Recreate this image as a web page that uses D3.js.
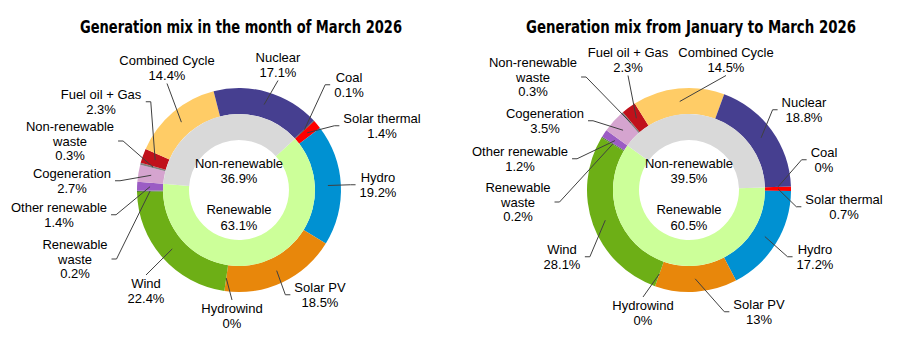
<!DOCTYPE html>
<html lang="en">
<head>
<meta charset="utf-8">
<script src="https://cdn.jsdelivr.net/npm/d3@7"></script>
<title>Generation mix</title>
<style>
  body { margin: 0; background: #ffffff; }
  text { font-family: "Liberation Sans", Arial, sans-serif; fill: #000; }
  .title { font-family: "Liberation Sans Narrow", "DejaVu Sans Condensed", sans-serif; font-weight: bold; font-size: 17px; }
  .lbl { font-size: 13px; }
  .leader { fill: none; stroke: #404040; stroke-width: 1; }
</style>
</head>
<body>
<svg id="main" width="900" height="341"></svg>
<script>
// technologies, in ring order (clockwise)
const techNames = ["Solar thermal", "Hydro", "Solar PV", "Hydrowind", "Wind", "Renewable waste",
  "Other renewable", "Cogeneration", "Non-renewable waste", "Fuel oil + Gas", "Combined Cycle", "Nuclear", "Coal"];
const techLines = [["Solar thermal"], ["Hydro"], ["Solar PV"], ["Hydrowind"], ["Wind"], ["Renewable", "waste"],
  ["Other renewable"], ["Cogeneration"], ["Non-renewable", "waste"], ["Fuel oil + Gas"], ["Combined Cycle"], ["Nuclear"], ["Coal"]];
const techColors = ["#ff0000", "#0091d2", "#e8870b", "#00b0f0", "#6daf16", "#548235",
  "#9b5cc4", "#d5a4cf", "#808080", "#c0111b", "#ffcc66", "#463f90", "#3a3a3a"];

const marchValues = [1.4, 19.2, 18.5, 0, 22.4, 0.2, 1.4, 2.7, 0.3, 2.3, 14.4, 17.1, 0.1];
const quarterValues = [0.7, 17.2, 13, 0, 28.1, 0.2, 1.2, 3.5, 0.3, 2.3, 14.5, 18.8, 0];

const groupNames = ["Renewable", "Non-renewable"];
const groupColors = ["#ccff99", "#d9d9d9"];
const marchGroups = [63.1, 36.9];
const quarterGroups = [60.5, 39.5];

const chartTitles = ["Generation mix in the month of March 2026", "Generation mix from January to March 2026"];

// label placement (offset from donut centre, side the leader leaves from)
const marchLabelPos = [[143, -67, "l"], [139, -8, "l"], [81, 102, "l"], [-7, 123, "t"], [-93, 98, "t"],
  [-164, 59, "r"], [-180, 22, "r"], [-167, -12, "r"], [-169, -59, "r"], [-138, -91, "r"],
  [-72, -125, "b"], [39, -128, "b"], [110, -108, "l"]];
const quarterLabelPos = [[155, 14, "l"], [126, 64, "l"], [70, 119, "l"], [-46, 120, "t"], [-127, 64, "r"],
  [-171, 2, "r"], [-169, -34, "r"], [-144, -72, "r"], [-156, -123, "r"], [-61, -133, "b"],
  [37, -133, "b"], [115, -83, "l"], [135, -33, "l"]];

const svg = d3.select("svg#main");
const rHole = 50, rMid = 76, rOut = 102, rLead = 89, lineH = 14.5;

function drawDonut(cx, cy, values, groups, title, titleW, startDeg, labelPos) {
  const g = svg.append("g");
  const a0 = startDeg * Math.PI / 180;

  g.append("text").attr("class", "title")
    .attr("x", cx + 2).attr("y", 33)
    .attr("text-anchor", "middle")
    .attr("textLength", titleW).attr("lengthAdjust", "spacingAndGlyphs")
    .text(title);

  const pie = d3.pie().sort(null).value(d => d).startAngle(a0).endAngle(a0 + 2 * Math.PI);
  const outerArc = d3.arc().innerRadius(rMid).outerRadius(rOut);
  const innerArc = d3.arc().innerRadius(rHole).outerRadius(rMid);

  const ring = g.append("g").attr("transform", `translate(${cx},${cy})`);
  const outerData = pie(values);
  ring.selectAll("path.outer").data(outerData).enter().append("path")
    .attr("class", "outer")
    .attr("d", outerArc)
    .attr("fill", (d, i) => techColors[i]);

  ring.selectAll("path.inner").data(pie(groups)).enter().append("path")
    .attr("class", "inner")
    .attr("d", innerArc)
    .attr("fill", (d, i) => groupColors[i]);

  // centre texts
  const centre = [[groupNames[1], -22], [groups[1] + "%", -7], [groupNames[0], 24], [groups[0] + "%", 39.5]];
  ring.selectAll("text.ctr").data(centre).enter().append("text")
    .attr("class", "lbl ctr")
    .attr("text-anchor", "middle")
    .attr("x", 0).attr("y", d => d[1])
    .text(d => d[0]);

  // outer labels + leader lines
  outerData.forEach((d, i) => {
    const [dx, dy, side] = labelPos[i];
    const lines = techLines[i].concat([values[i] + "%"]);
    const t = ring.append("text").attr("class", "lbl").attr("text-anchor", "middle")
      .attr("x", dx).attr("y", dy);
    lines.forEach((s, k) => {
      t.append("tspan").attr("x", dx).attr("dy", k === 0 ? 0 : lineH).text(s);
    });
    const bb = t.node().getBBox();
    const mid = (d.startAngle + d.endAngle) / 2;
    const tx = Math.sin(mid) * rLead, ty = -Math.cos(mid) * rLead;
    let pts;
    if (side === "r") {
      const x0 = bb.x + bb.width + 4, y0 = bb.y + bb.height / 2;
      pts = [[x0, y0], [x0 + 5, y0], [tx, ty]];
    } else if (side === "l") {
      const x0 = bb.x - 4, y0 = bb.y + bb.height / 2;
      pts = [[x0, y0], [x0 - 5, y0], [tx, ty]];
    } else if (side === "b") {
      pts = [[dx, bb.y + bb.height + 1], [tx, ty]];
    } else {
      pts = [[dx, bb.y - 1], [tx, ty]];
    }
    ring.append("path").attr("class", "leader").attr("d", d3.line()(pts));
  });
}

drawDonut(239, 190, marchValues, marchGroups, chartTitles[0], 322, 47.5, marchLabelPos);
drawDonut(689, 190, quarterValues, quarterGroups, chartTitles[1], 330, 88, quarterLabelPos);
</script>
</body>
</html>
